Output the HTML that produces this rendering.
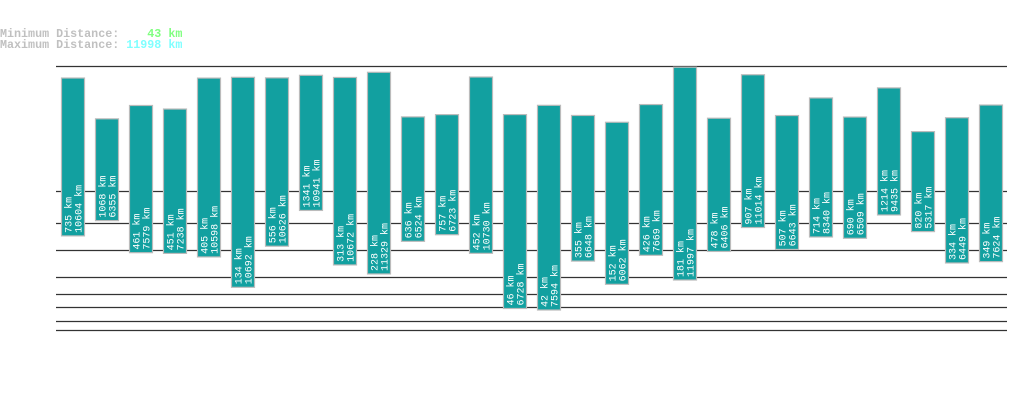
<!DOCTYPE html>
<html><head><meta charset="utf-8"><style>
body{margin:0;background:#fff;width:1019px;height:402px;overflow:hidden}
svg{display:block}
</style></head><body>
<svg id="chart" width="1019" height="402" xmlns="http://www.w3.org/2000/svg" font-family="Liberation Mono, monospace">
<text x="0" y="37" font-size="11.7" font-weight="bold" fill="#c0c0c0" xml:space="preserve">Minimum Distance:    <tspan fill="#80ff80">43 km</tspan></text>
<text x="0" y="48" font-size="11.7" font-weight="bold" fill="#c0c0c0" xml:space="preserve">Maximum Distance: <tspan fill="#80ffff">11998 km</tspan></text>
<g id="lines"></g>
<g id="bars"></g>
</svg>
<script>
const minDist = [735,1068,461,451,405,134,556,1341,313,228,636,757,452,46,42,355,152,426,181,478,907,507,714,690,1214,820,334,349];
const maxDist = [10604,6355,7579,7238,10598,10692,10626,10941,10672,11329,6524,6723,10730,6728,7594,6648,6062,7669,11997,6406,11014,6643,8340,6509,9435,5317,6449,7624];
const gridValues = [12150,2000,1000,500,200,100,50,20,9];
const NS='http://www.w3.org/2000/svg';
function yScale(d){return 364.5-17.76*Math.pow(d,0.3);}
function xScale(i){return 61+i*34;}
const lines=document.getElementById('lines');
gridValues.forEach(v=>{
  const y=Math.round(yScale(v))+0.5;
  const l=document.createElementNS(NS,'line');
  
  
  l.setAttribute('x1',56);l.setAttribute('x2',1007);
  l.setAttribute('y1',y);l.setAttribute('y2',y);
  l.setAttribute('stroke','#333');l.setAttribute('stroke-width','1.2');
  lines.appendChild(l);
});
const bars=document.getElementById('bars');
minDist.forEach((mn,i)=>{
  const mx=maxDist[i];
  const x=xScale(i), top=yScale(mx), bot=yScale(mn);
  const g=document.createElementNS(NS,'g');
  
  
  const r=document.createElementNS(NS,'rect');
  
  
  r.setAttribute('x',x+0.5);r.setAttribute('y',top);
  r.setAttribute('width',23);r.setAttribute('height',bot-top);
  r.setAttribute('fill','#12a0a0');r.setAttribute('stroke','#bbb');r.setAttribute('stroke-width','1.2');
  g.appendChild(r);
  [[mn,x+10.5],[mx,x+20.5]].forEach(([v,tx],k)=>{
    const t=document.createElementNS(NS,'text');
    
    
    t.setAttribute('transform','translate('+tx+','+(bot-3)+') rotate(-90)');
    t.setAttribute('font-size','10');t.setAttribute('fill','#fff');
    t.textContent=v+' km';
    g.appendChild(t);
  });
  bars.appendChild(g);
});
</script>
</body></html>
